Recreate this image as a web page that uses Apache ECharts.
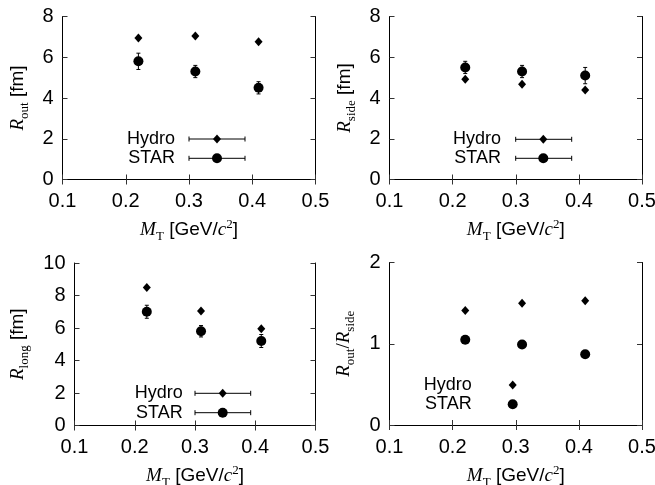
<!DOCTYPE html>
<html><head><meta charset="utf-8">
<script src="https://cdn.jsdelivr.net/npm/echarts@6/dist/echarts.min.js"></script>
<style>html,body{margin:0;padding:0;background:#fff}#c{width:655px;height:485px}</style>
</head><body><div id="c"></div>
<script>
// ---- data ----
const mtValues = [0.22, 0.31, 0.41];
const xTicks = [0.1, 0.2, 0.3, 0.4, 0.5];
const routHydro = [6.95, 7.04, 6.76];
const routStar = [5.8, 5.3, 4.5];
const routErr = [0.4, 0.3, 0.3];
const rsideHydro = [4.92, 4.67, 4.39];
const rsideStar = [5.5, 5.3, 5.1];
const rsideErr = [0.3, 0.3, 0.4];
const rlongHydro = [8.5, 7.05, 5.96];
const rlongStar = [7.0, 5.8, 5.2];
const rlongErr = [0.4, 0.35, 0.4];
const ratioHydro = [1.41, 1.50, 1.53];
const ratioStar = [1.05, 0.99, 0.87];
const legendNames = ['Hydro', 'STAR'];

const SANS = '"Liberation Sans", Arial, sans-serif';
const SERIF = '"Liberation Serif", "Times New Roman", serif';
const FS = 19;
const TFS = 20;

const grids = [
  {left: 62.5, top: 16.5, width: 253, height: 163, outerBoundsMode: 'none', containLabel: false},
  {left: 389.5, top: 16.5, width: 252.5, height: 163, outerBoundsMode: 'none', containLabel: false},
  {left: 74.5, top: 263, width: 241, height: 162.5, outerBoundsMode: 'none', containLabel: false},
  {left: 389.5, top: 262.5, width: 252.5, height: 162.5, outerBoundsMode: 'none', containLabel: false}
];
const yCfg = [
  {max: 8, interval: 2, name: '{i|R}{s|out}{n| [fm]}', gap: 35},
  {max: 8, interval: 2, name: '{i|R}{s|side}{n| [fm]}', gap: 35},
  {max: 10, interval: 2, name: '{i|R}{s|long}{n| [fm]}', gap: 47},
  {max: 2, interval: 1, name: '{i|R}{s|out}{r|/}{i|R}{s|side}', gap: 36}
];
const rich = {
  i: {fontFamily: SERIF, fontStyle: 'italic', fontSize: FS, color: '#000'},
  s: {fontFamily: SERIF, fontSize: 13, color: '#000', verticalAlign: 'bottom', lineHeight: 14, padding: [0, 0, -4, 0]},
  p: {fontFamily: SERIF, fontSize: 13, color: '#000', verticalAlign: 'top', padding: [-2, 0, 0, 0]},
  r: {fontFamily: SERIF, fontSize: FS, color: '#000'},
  n: {fontFamily: SANS, fontSize: FS, color: '#000'}
};

const xAxis = [], yAxis = [], series = [];
grids.forEach((g, k) => {
  xAxis.push({
    gridIndex: k, type: 'value', min: 0.1, max: 0.5, interval: 0.1, position: 'bottom',
    name: '{i|M}{s|T}{n| [GeV/}{i|c}{p|2}{n|]}', nameLocation: 'middle', nameGap: 41,
    nameTextStyle: {rich},
    axisLine: {lineStyle: {color: '#000', width: 1}},
    axisTick: {inside: true, length: 5, lineStyle: {color: '#333'}},
    axisLabel: {color: '#000', fontFamily: SANS, fontSize: TFS, margin: 12,
      formatter: v => xTicks.find(t => Math.abs(t - v) < 1e-9).toFixed(1)},
    splitLine: {show: false}
  });
  xAxis.push({
    gridIndex: k, type: 'value', min: 0.1, max: 0.5, interval: 0.1, position: 'top',
    axisLine: {lineStyle: {color: '#000', width: 1}},
    axisTick: {inside: true, length: 5, lineStyle: {color: '#333'}},
    axisLabel: {show: false}, splitLine: {show: false}
  });
  const yc = yCfg[k];
  yAxis.push({
    gridIndex: k, type: 'value', min: 0, max: yc.max, interval: yc.interval, position: 'left',
    name: yc.name, nameLocation: 'middle', nameGap: yc.gap, nameRotate: 90,
    nameTextStyle: {rich},
    axisLine: {show: true, lineStyle: {color: '#000', width: 1}},
    axisTick: {show: true, inside: true, length: 5, lineStyle: {color: '#333'}},
    axisLabel: {color: '#000', fontFamily: SANS, fontSize: TFS, margin: 9},
    splitLine: {show: false}
  });
  yAxis.push({
    gridIndex: k, type: 'value', min: 0, max: yc.max, interval: yc.interval, position: 'right',
    axisLine: {show: true, lineStyle: {color: '#000', width: 1}},
    axisTick: {show: true, inside: true, length: 5, lineStyle: {color: '#333'}},
    axisLabel: {show: false}, splitLine: {show: false}
  });
});

const panels = [
  {hydro: routHydro, star: routStar, err: routErr},
  {hydro: rsideHydro, star: rsideStar, err: rsideErr},
  {hydro: rlongHydro, star: rlongStar, err: rlongErr},
  {hydro: ratioHydro, star: ratioStar, err: null}
];
panels.forEach((p, k) => {
  if (p.err) {
    series.push({
      type: 'custom', xAxisIndex: 2 * k, yAxisIndex: 2 * k, z: 1, silent: true,
      data: mtValues.map((x, i) => [x, p.star[i] - p.err[i], p.star[i] + p.err[i]]),
      renderItem: (params, api) => {
        const x = api.value(0);
        const a = api.coord([x, api.value(1)]), b = api.coord([x, api.value(2)]);
        const st = {stroke: '#000', lineWidth: 1};
        const w = 2;
        return {type: 'group', children: [
          {type: 'line', shape: {x1: a[0], y1: a[1], x2: b[0], y2: b[1]}, style: st},
          {type: 'line', shape: {x1: a[0] - w, y1: a[1], x2: a[0] + w, y2: a[1]}, style: st},
          {type: 'line', shape: {x1: b[0] - w, y1: b[1], x2: b[0] + w, y2: b[1]}, style: st}
        ]};
      }
    });
  }
  series.push({
    name: legendNames[0], type: 'scatter', xAxisIndex: 2 * k, yAxisIndex: 2 * k, z: 3,
    symbol: 'diamond', symbolSize: [8, 9], itemStyle: {color: '#000', opacity: 1},
    data: mtValues.map((x, i) => [x, p.hydro[i]])
  });
  series.push({
    name: legendNames[1], type: 'scatter', xAxisIndex: 2 * k, yAxisIndex: 2 * k, z: 3,
    symbol: 'circle', symbolSize: 10, itemStyle: {color: '#000', opacity: 1},
    data: mtValues.map((x, i) => [x, p.star[i]])
  });
});

// ---- legends (gnuplot style keys) ----
const keys = [
  {tx: 175, l1: 189, l2: 245, mx: 217, y1: 139, y2: 158.3, line: true},
  {tx: 501, l1: 515.7, l2: 571.7, mx: 543.3, y1: 139.3, y2: 158.3, line: true},
  {tx: 182.7, l1: 195, l2: 250.7, mx: 222.7, y1: 393.3, y2: 412.7, line: true},
  {tx: 471.7, l1: 0, l2: 0, mx: 512.7, y1: 385, y2: 404.3, line: false}
];
const graphic = [];
keys.forEach(kk => {
  [kk.y1, kk.y2].forEach((y, j) => {
    graphic.push({type: 'text', x: kk.tx, y: y, style: {text: legendNames[j], font: '18px ' + SANS, fill: '#000', textAlign: 'right', textVerticalAlign: 'middle'}});
    if (kk.line) {
      const st = {stroke: '#000', lineWidth: 1};
      graphic.push({type: 'line', shape: {x1: kk.l1, y1: y, x2: kk.l2, y2: y}, style: st});
      graphic.push({type: 'line', shape: {x1: kk.l1, y1: y - 2.5, x2: kk.l1, y2: y + 2.5}, style: st});
      graphic.push({type: 'line', shape: {x1: kk.l2, y1: y - 2.5, x2: kk.l2, y2: y + 2.5}, style: st});
    }
    if (j === 0) {
      graphic.push({type: 'polygon', shape: {points: [[kk.mx, y - 4.5], [kk.mx + 4, y], [kk.mx, y + 4.5], [kk.mx - 4, y]]}, style: {fill: '#000'}});
    } else {
      graphic.push({type: 'circle', shape: {cx: kk.mx, cy: y, r: 5}, style: {fill: '#000'}});
    }
  });
});

const chart = echarts.init(document.getElementById('c'), null, {renderer: 'canvas'});
chart.setOption({
  backgroundColor: '#fff', animation: false,
  grid: grids, xAxis, yAxis, series, graphic
});
</script></body></html>
